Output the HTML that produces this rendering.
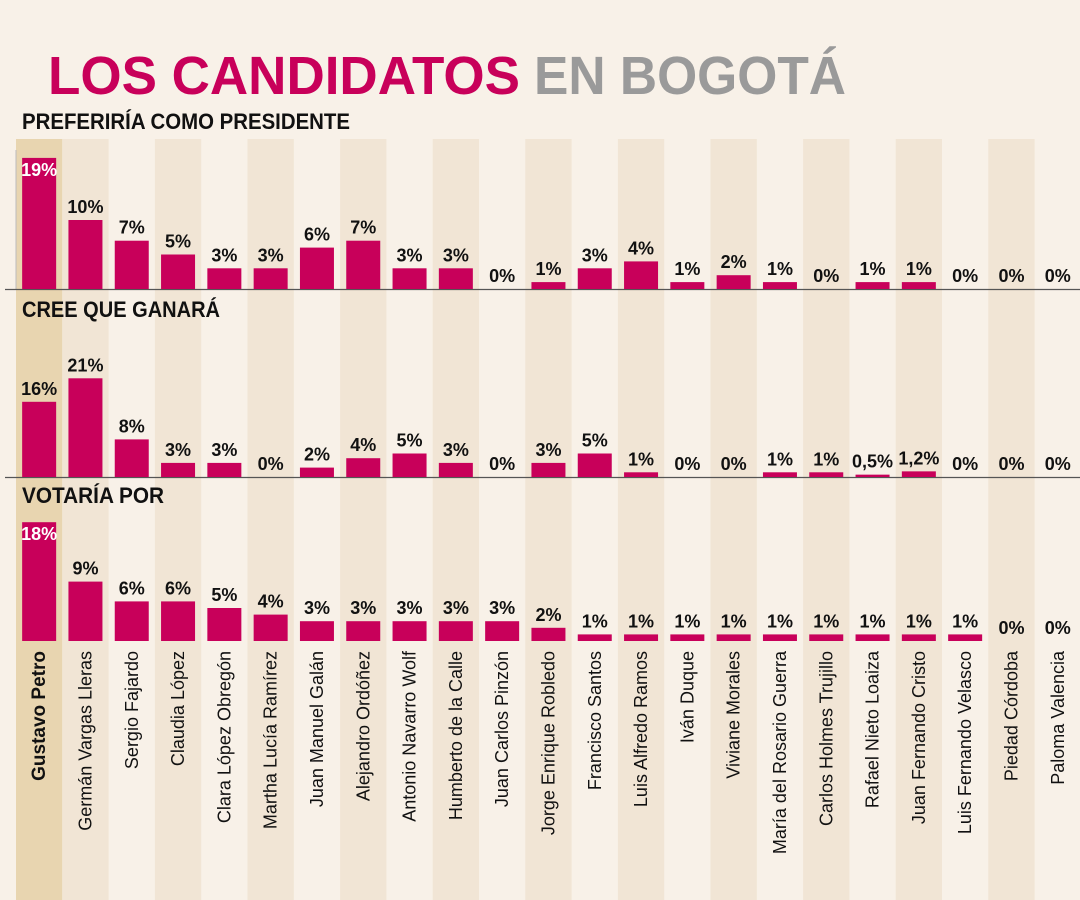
<!DOCTYPE html>
<html><head><meta charset="utf-8"><style>
html,body{margin:0;padding:0;background:#f8f1e8;}
svg{display:block;font-family:"Liberation Sans Narrow","Liberation Sans",sans-serif;}
</style></head><body>
<svg id="chart" width="1080" height="900" viewBox="0 0 1080 900" xmlns="http://www.w3.org/2000/svg">
<rect width="1080" height="900" fill="#f8f1e8"/>
<g id="stripes"></g>
<text x="48" y="94" font-size="54" font-weight="bold" font-family="Liberation Sans, sans-serif"><tspan fill="#c8005a" textLength="472" lengthAdjust="spacingAndGlyphs">LOS CANDIDATOS</tspan><tspan dx="14" fill="#9a9a9a" textLength="312" lengthAdjust="spacingAndGlyphs">EN BOGOTÁ</tspan></text>
<text x="22" y="129" font-size="22" font-weight="bold" fill="#111" textLength="328" lengthAdjust="spacingAndGlyphs">PREFERIRÍA COMO PRESIDENTE</text>
<text x="22" y="317" font-size="22" font-weight="bold" fill="#111" textLength="198" lengthAdjust="spacingAndGlyphs">CREE QUE GANARÁ</text>
<text x="22" y="503" font-size="22" font-weight="bold" fill="#111" textLength="142" lengthAdjust="spacingAndGlyphs">VOTARÍA POR</text>
<g id="marks"></g>
</svg>
<script>
const candidates=["Gustavo Petro","Germán Vargas Lleras","Sergio Fajardo","Claudia López","Clara López Obregón","Martha Lucía Ramírez","Juan Manuel Galán","Alejandro Ordóñez","Antonio Navarro Wolf","Humberto de la Calle","Juan Carlos Pinzón","Jorge Enrique Robledo","Francisco Santos","Luis Alfredo Ramos","Iván Duque","Viviane Morales","María del Rosario Guerra","Carlos Holmes Trujillo","Rafael Nieto Loaiza","Juan Fernando Cristo","Luis Fernando Velasco","Piedad Córdoba","Paloma Valencia"];
const preferiria=[19,10,7,5,3,3,6,7,3,3,0,1,3,4,1,2,1,0,1,1,0,0,0];
const creeGanara=[16,21,8,3,3,0,2,4,5,3,0,3,5,1,0,0,1,1,0.5,1.2,0,0,0];
const votaria=[18,9,6,6,5,4,3,3,3,3,3,2,1,1,1,1,1,1,1,1,1,0,0];
const prefeririaLabels=["19%","10%","7%","5%","3%","3%","6%","7%","3%","3%","0%","1%","3%","4%","1%","2%","1%","0%","1%","1%","0%","0%","0%"];
const creeLabels=["16%","21%","8%","3%","3%","0%","2%","4%","5%","3%","0%","3%","5%","1%","0%","0%","1%","1%","0,5%","1,2%","0%","0%","0%"];
const votariaLabels=["18%","9%","6%","6%","5%","4%","3%","3%","3%","3%","3%","2%","1%","1%","1%","1%","1%","1%","1%","1%","1%","0%","0%"];

const NS="http://www.w3.org/2000/svg";
const x0=16,colW=46.3,barW=34;
const xCol=i=>x0+i*colW;
const xCenter=i=>x0+i*colW+colW/2;
const panels=[
 {key:"preferiria",vals:preferiria,labels:prefeririaLabels,base:289,scale:6.9,inside:true,axis:true},
 {key:"cree-ganara",vals:creeGanara,labels:creeLabels,base:477,scale:4.7,inside:false,axis:true},
 {key:"votaria",vals:votaria,labels:votariaLabels,base:641,scale:6.6,inside:true,axis:false}
];
function mk(tag,attrs,parent){const e=document.createElementNS(NS,tag);for(const k in attrs)e.setAttribute(k,attrs[k]);parent.appendChild(e);return e;}
const stripes=document.getElementById('stripes');
candidates.forEach((c,i)=>{
 if(i===0||i%2===1){
  const r=mk('rect',{x:xCol(i),y:139,width:colW,height:761,fill:i===0?'#e8d5b0':'#f1e5d5'},stripes);
  
  
 }
});
const marks=document.getElementById('marks');
const ax=mk('line',{x1:16,y1:150,x2:16,y2:289,stroke:'#bbb','stroke-width':1},marks);


panels.forEach(p=>{
 if(p.axis){
  const l=mk('line',{x1:5,y1:p.base+0.5,x2:1080,y2:p.base+0.5,stroke:'#555','stroke-width':1.2},marks);
  
  
 }
 p.vals.forEach((v,i)=>{
  const h=v*p.scale;
  const bx=xCenter(i)-barW/2;
  if(h>0){
   const b=mk('rect',{x:bx,y:p.base-h,width:barW,height:h,fill:'#c8005a'},marks);
   
   
  }
  const inside=p.inside&&i===0;
  const t=mk('text',{x:xCenter(i),y:inside?(p.base-h+18):(p.base-h-7),'text-anchor':'middle','font-size':18,'font-weight':'bold',fill:inside?'#fff':'#111'},marks);
  t.textContent=p.labels[i];
  
  
 });
});
candidates.forEach((c,i)=>{
 const cx=xCenter(i)+6;
 const t=mk('text',{x:0,y:0,transform:`translate(${cx},651) rotate(-90)`,'text-anchor':'end','font-size':i===0?19:18,'font-weight':i===0?'bold':'normal',fill:'#111'},marks);
 t.textContent=c;
 
 
});
</script>
</body></html>
